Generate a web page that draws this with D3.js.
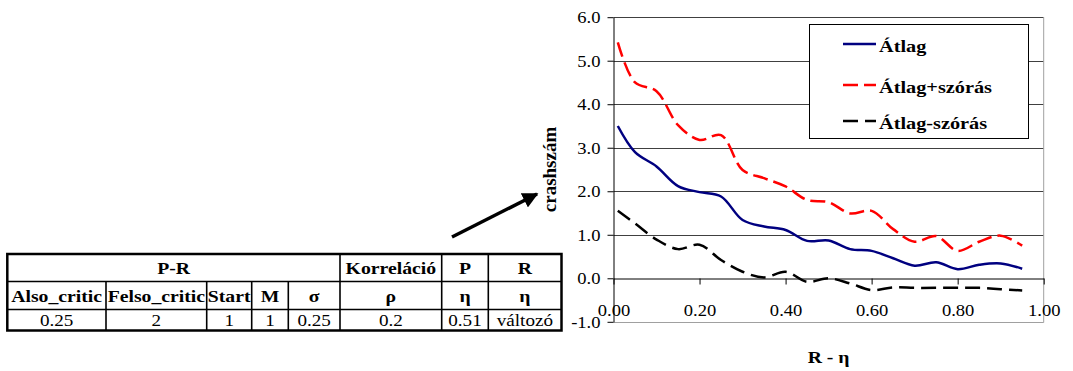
<!DOCTYPE html>
<html>
<head>
<meta charset="utf-8">
<script src="https://cdn.jsdelivr.net/npm/d3@7"></script>
<style>
  html, body { margin: 0; padding: 0; background: #fff; }
  svg { display: block; }
</style>
</head>
<body>
<svg id="chart" width="1073" height="371"></svg>
<script>
// ---- chart data: crash count vs. R-eta ----
const eta = [0.01, 0.05, 0.10, 0.15, 0.20, 0.25, 0.30, 0.35, 0.40, 0.45,
             0.50, 0.55, 0.60, 0.65, 0.70, 0.75, 0.80, 0.85, 0.90, 0.95];
const atlag = [3.50, 2.90, 2.57, 2.12, 1.98, 1.88, 1.34, 1.19, 1.11, 0.86,
               0.87, 0.67, 0.63, 0.46, 0.29, 0.37, 0.21, 0.31, 0.34, 0.22];
const atlagPlusSzoras = [5.42, 4.50, 4.30, 3.52, 3.18, 3.29, 2.49, 2.30, 2.11, 1.80,
                         1.75, 1.49, 1.55, 1.13, 0.84, 0.97, 0.63, 0.84, 0.98, 0.75];
const atlagMinusSzoras = [1.55, 1.26, 0.89, 0.67, 0.77, 0.42, 0.15, 0.02, 0.15, -0.08,
                          0.00, -0.12, -0.27, -0.21, -0.22, -0.22, -0.22, -0.22, -0.25, -0.28];
const seriesNames = ["Átlag", "Átlag+szórás", "Átlag-szórás"];
const xTicks = [0, 0.2, 0.4, 0.6, 0.8, 1.0];
const xTickLabels = ["0.00", "0.20", "0.40", "0.60", "0.80", "1.00"];
const yTicks = [-1, 0, 1, 2, 3, 4, 5, 6];
const yTickLabels = ["-1.0", "0.0", "1.0", "2.0", "3.0", "4.0", "5.0", "6.0"];
const xTitle = "R - η";
const yTitle = "crashszám";

// ---- parameter table ----
const tableGroups = [["P-R", 5], ["Korreláció", 1], ["P", 1], ["R", 1]];
const tableParams = ["Also_critic", "Felso_critic", "Start", "M", "σ", "ρ", "η", "η"];
const tableValues = ["0.25", "2", "1", "1", "0.25", "0.2", "0.51", "változó"];

// ---- layout ----
const FONT = "'Liberation Serif', 'Times New Roman', serif";
const WIDE = 1.16; // horizontal widening of the serif glyphs
const plot = { left: 613.5, right: 1043.7, top: 17.2, bottom: 321.8 };
const colEdges = [7.3, 106, 206.7, 251.7, 288.3, 340, 441.7, 488.3, 561.5];
const rowEdges = [254, 281.5, 309.5, 330.5];

const svg = d3.select("#chart");

// move a text's x/y into a transform so it can be widened around its anchor
function widen(sel, sx) {
  sel.each(function () {
    const t = d3.select(this);
    const tx = +t.attr("x") || 0, ty = +t.attr("y") || 0;
    t.attr("x", 0).attr("y", 0)
     .attr("transform", `translate(${tx},${ty}) scale(${sx},1)`);
  });
}

const x = d3.scaleLinear().domain([0, 1]).range([plot.left, plot.right]);
const y = d3.scaleLinear().domain([-1, 6]).range([plot.bottom, plot.top]);

// horizontal gridlines
svg.append("g")
  .selectAll("line")
  .data(yTicks.filter(d => d > 0))
  .join("line")
  .attr("x1", plot.left).attr("x2", plot.right)
  .attr("y1", d => Math.round(y(d)) + 0.5).attr("y2", d => Math.round(y(d)) + 0.5)
  .attr("stroke", "#404040").attr("stroke-width", 1);

// right and bottom frame
svg.append("path")
  .attr("d", `M${plot.right},${plot.top}V${Math.round(plot.bottom) + 0.5}H${plot.left}`)
  .attr("fill", "none").attr("stroke", "#a0a0a0").attr("stroke-width", 1);

// y axis
const yAxis = svg.append("g")
  .attr("transform", `translate(${plot.left},0)`)
  .call(d3.axisLeft(y).tickValues(yTicks)
    .tickFormat((d, i) => yTickLabels[i]).tickSize(6).tickPadding(7).tickSizeOuter(0));
yAxis.selectAll("text").attr("font-family", FONT).attr("font-size", 16).attr("fill", "#000")
  .attr("dy", null).attr("y", 5.5);
widen(yAxis.selectAll("text"), WIDE);
yAxis.select(".domain").attr("stroke", "#000");

// x axis through zero
const xAxis = svg.append("g")
  .attr("transform", `translate(0,${Math.round(y(0)) + 0.5})`)
  .call(d3.axisBottom(x).tickValues(xTicks)
    .tickFormat((d, i) => xTickLabels[i]).tickSize(6).tickSizeOuter(0));
xAxis.selectAll("text").attr("font-family", FONT).attr("font-size", 16).attr("fill", "#000")
  .attr("dy", null).attr("y", 37);
widen(xAxis.selectAll("text"), WIDE);
xAxis.select(".domain").attr("stroke", "#000");

// series lines
const series = [
  { name: seriesNames[0], values: atlag, color: "#000080", dash: null },
  { name: seriesNames[1], values: atlagPlusSzoras, color: "#ff0000", dash: "15,6" },
  { name: seriesNames[2], values: atlagMinusSzoras, color: "#000000", dash: "15,7" }
];
const line = d3.line()
  .x(d => x(d[0])).y(d => y(d[1]))
  .curve(d3.curveCatmullRom.alpha(0.5));

svg.append("g")
  .selectAll("path")
  .data(series)
  .join("path")
  .attr("d", s => line(eta.map((e, i) => [e, s.values[i]])))
  .attr("fill", "none")
  .attr("stroke", s => s.color)
  .attr("stroke-width", 2.5)
  .attr("stroke-dasharray", s => s.dash);

// legend
const legend = svg.append("g");
legend.append("rect")
  .attr("x", 809.5).attr("y", 24.5).attr("width", 219).attr("height", 114)
  .attr("fill", "#fff").attr("stroke", "#000").attr("stroke-width", 1);
const legendRows = [44, 85, 121];
series.forEach((s, i) => {
  legend.append("line")
    .attr("x1", 843).attr("x2", 876)
    .attr("y1", legendRows[i]).attr("y2", legendRows[i])
    .attr("stroke", s.color).attr("stroke-width", 2.5)
    .attr("stroke-dasharray", s.dash);
  const t = legend.append("text")
    .attr("x", 879).attr("y", legendRows[i] + 8)
    .attr("font-family", FONT).attr("font-size", 17.5).attr("font-weight", "bold")
    .text(s.name);
  widen(t, WIDE);
});

// axis titles
const xt = svg.append("text")
  .attr("x", (plot.left + plot.right) / 2).attr("y", 363)
  .attr("text-anchor", "middle")
  .attr("font-family", FONT).attr("font-size", 17).attr("font-weight", "bold")
  .text(xTitle);
widen(xt, WIDE);
svg.append("text")
  .attr("transform", `translate(556,${(plot.top + plot.bottom) / 2}) rotate(-90)`)
  .attr("text-anchor", "middle")
  .attr("font-family", FONT).attr("font-size", 19).attr("font-weight", "bold")
  .text(yTitle);

// pointer arrow towards the y title
svg.append("defs").append("marker")
  .attr("id", "arrowhead")
  .attr("viewBox", "0 0 10 10").attr("refX", 9).attr("refY", 5)
  .attr("markerWidth", 4.5).attr("markerHeight", 4.5)
  .attr("orient", "auto")
  .append("path").attr("d", "M0,0L10,5L0,10z").attr("fill", "#000");
svg.append("line")
  .attr("x1", 452).attr("y1", 237).attr("x2", 537).attr("y2", 194)
  .attr("stroke", "#000").attr("stroke-width", 3.5)
  .attr("marker-end", "url(#arrowhead)");

// parameter table
const table = svg.append("g");
const colCenter = i => (colEdges[i] + colEdges[i + 1]) / 2;
const rowBase = r => (rowEdges[r] + rowEdges[r + 1]) / 2 + 6;

// group header row
let c = 0;
const groupCells = tableGroups.map(([label, span]) => {
  const cell = { label, from: c, to: c + span };
  c += span;
  return cell;
});
table.selectAll("text.group")
  .data(groupCells)
  .join("text")
  .attr("class", "group")
  .attr("x", d => (colEdges[d.from] + colEdges[d.to]) / 2)
  .attr("y", rowBase(0))
  .attr("text-anchor", "middle")
  .attr("font-family", FONT).attr("font-size", 17).attr("font-weight", "bold")
  .text(d => d.label)
  .call(widen, WIDE);

table.selectAll("text.param")
  .data(tableParams)
  .join("text")
  .attr("class", "param")
  .attr("x", (d, i) => colCenter(i))
  .attr("y", rowBase(1))
  .attr("text-anchor", "middle")
  .attr("font-family", FONT).attr("font-size", 17).attr("font-weight", "bold")
  .text(d => d)
  .call(widen, WIDE);

table.selectAll("text.value")
  .data(tableValues)
  .join("text")
  .attr("class", "value")
  .attr("x", (d, i) => colCenter(i))
  .attr("y", rowBase(2) - 0.5)
  .attr("text-anchor", "middle")
  .attr("font-family", FONT).attr("font-size", 16.5)
  .text(d => d)
  .call(widen, WIDE);

// inner rules
const inner = [];
rowEdges.slice(1, -1).forEach(ry => inner.push([colEdges[0], ry, colEdges[colEdges.length - 1], ry]));
colEdges.slice(1, -1).forEach((cx, i) => {
  const isGroupEdge = groupCells.some(g => g.to === i + 1);
  inner.push([cx, isGroupEdge ? rowEdges[0] : rowEdges[1], cx, rowEdges[3]]);
});
table.selectAll("line")
  .data(inner)
  .join("line")
  .attr("x1", d => d[0]).attr("y1", d => d[1]).attr("x2", d => d[2]).attr("y2", d => d[3])
  .attr("stroke", "#000").attr("stroke-width", 1.6);
table.append("rect")
  .attr("x", colEdges[0]).attr("y", rowEdges[0])
  .attr("width", colEdges[colEdges.length - 1] - colEdges[0])
  .attr("height", rowEdges[3] - rowEdges[0])
  .attr("fill", "none").attr("stroke", "#000").attr("stroke-width", 2.5);
</script>
</body>
</html>
